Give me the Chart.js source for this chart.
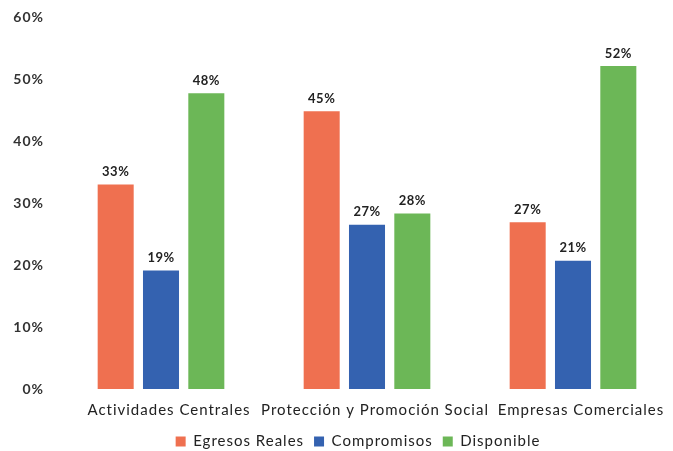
<!DOCTYPE html>
<html>
<head>
<meta charset="utf-8">
<script src="https://cdn.jsdelivr.net/npm/chart.js@4.4.1/dist/chart.umd.min.js"></script>
<style>
  html, body { margin: 0; padding: 0; background: #fff; overflow: hidden; }
  #wrap { width: 676px; height: 459px; position: relative; }
</style>
</head>
<body>
<div id="wrap"><canvas id="c"></canvas></div>
<script>
const categories = ['Actividades Centrales', 'Protección y Promoción Social', 'Empresas Comerciales'];
const seriesNames = ['Egresos Reales', 'Compromisos', 'Disponible'];
const egresosReales = [33.0, 44.8, 26.9];
const compromisos = [19.1, 26.5, 20.7];
const disponible = [47.7, 28.3, 52.1];
const yTicks = [0, 10, 20, 30, 40, 50, 60];
const colors = ['#EF7050', '#3462B0', '#6CB757'];

const spacing = {
  id: 'spacing',
  beforeLayout(chart) { chart.ctx.letterSpacing = '1px'; },
  afterLayout(chart) {
    if (chart.legend) { chart.legend.left += 20; chart.legend.right += 20; }
  },
  beforeDraw(chart) { chart.ctx.letterSpacing = '1px'; }
};

const dataLabels = {
  id: 'dataLabels',
  afterDatasetsDraw(chart) {
    const ctx = chart.ctx;
    ctx.save();
    ctx.letterSpacing = '0.5px';
    ctx.font = 'bold 13px Lato, "Open Sans", sans-serif';
    ctx.fillStyle = '#222';
    ctx.textAlign = 'center';
    ctx.textBaseline = 'bottom';
    chart.data.datasets.forEach((ds, i) => {
      const meta = chart.getDatasetMeta(i);
      meta.data.forEach((bar, j) => {
        ctx.fillText(Math.round(ds.data[j]) + '%', bar.x, bar.y - 6);
      });
    });
    ctx.restore();
  }
};

new Chart(document.getElementById('c'), {
  type: 'bar',
  data: {
    labels: categories,
    datasets: [
      { label: seriesNames[0], data: egresosReales, backgroundColor: colors[0] },
      { label: seriesNames[1], data: compromisos, backgroundColor: colors[1] },
      { label: seriesNames[2], data: disponible, backgroundColor: colors[2] }
    ]
  },
  options: {
    responsive: true,
    maintainAspectRatio: false,
    animation: false,
    categoryPercentage: 0.66,
    barPercentage: 0.795,
    layout: { padding: { top: 0, right: 0, bottom: 0, left: 0 } },
    plugins: {
      legend: {
        position: 'bottom',
        labels: {
          boxWidth: 10, boxHeight: 10,
          padding: 10,
          color: '#222',
          font: { family: 'Lato, "Open Sans", sans-serif', size: 15 }
        }
      },
      tooltip: { enabled: false }
    },
    scales: {
      x: {
        grid: { display: false, drawTicks: false },
        border: { display: false },
        afterFit(scale) { scale.height = 35; },
        ticks: {
          color: '#222',
          padding: 12,
          labelOffset: 8,
          maxRotation: 0,
          autoSkip: false,
          font: { family: 'Lato, "Open Sans", sans-serif', size: 15 }
        }
      },
      y: {
        min: 0, max: 60,
        afterBuildTicks(scale) { scale.ticks = yTicks.map(v => ({ value: v })); },
        afterFit(scale) { scale.width = 58; scale.paddingTop = 17; },
        grid: { display: false, drawTicks: false },
        border: { display: false },
        ticks: {
          color: '#333',
          padding: 14,
          font: { family: 'Lato, "Open Sans", sans-serif', size: 14, weight: 'bold' },
          callback: v => v + '%'
        }
      }
    }
  },
  plugins: [spacing, dataLabels]
});
</script>
</body>
</html>
